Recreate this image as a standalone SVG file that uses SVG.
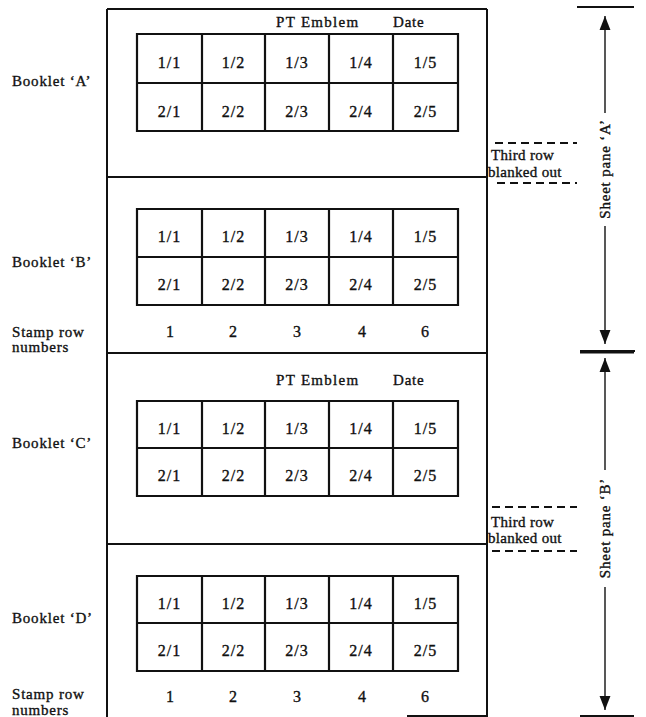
<svg xmlns="http://www.w3.org/2000/svg" width="646" height="717" viewBox="0 0 646 717">
<style>
text{font-family:"Liberation Serif","Times New Roman",serif;fill:#111;stroke:#111;stroke-width:0.35px}
.lbl{font-size:15px;letter-spacing:0.8px}
.cell{font-size:16px;letter-spacing:1px;text-anchor:middle}
.num{font-size:16px;text-anchor:middle}
.frame{fill:none;stroke:#111;stroke-width:2}
.grid{fill:none;stroke:#111;stroke-width:2.2}
.dash{fill:none;stroke:#111;stroke-width:2;stroke-dasharray:8 5}
.dim{fill:none;stroke:#111;stroke-width:1.4}
.bar{fill:none;stroke:#111;stroke-width:2}
</style>
<defs>
<marker id="ah" markerWidth="14" markerHeight="20" refX="18" refY="7" viewBox="0 0 18 14" orient="auto" markerUnits="userSpaceOnUse">
<path d="M0,0 L18,7 L0,14 Z" fill="#111"/>
</marker>
</defs>
<rect width="646" height="717" fill="#fff"/>

<g id="frame">
<path class="frame" d="M107,9 L487,9 M107,9 L107,717 M487,9 L487,717 M107,177 L487,177 M107,353 L487,353 M107,544 L487,544 M407,716 L487,716"/>
</g>

<g id="booklet-a">
<text class="lbl" x="12" y="86">Booklet ‘A’</text>
<text class="lbl" x="276" y="27" style="letter-spacing:1.3px">PT Emblem</text>
<text class="lbl" x="393" y="27">Date</text>
<path class="grid" d="M137,34 H458 V131 H137 Z M137,83 H458 M202,34 V131 M265,34 V131 M329,34 V131 M393,34 V131"/>
<text class="cell" x="169.5" y="68">1/1</text><text class="cell" x="233.5" y="68">1/2</text><text class="cell" x="297" y="68">1/3</text><text class="cell" x="361" y="68">1/4</text><text class="cell" x="425.5" y="68">1/5</text>
<text class="cell" x="169.5" y="117">2/1</text><text class="cell" x="233.5" y="117">2/2</text><text class="cell" x="297" y="117">2/3</text><text class="cell" x="361" y="117">2/4</text><text class="cell" x="425.5" y="117">2/5</text>
</g>

<g id="booklet-b">
<text class="lbl" x="12" y="267">Booklet ‘B’</text>
<path class="grid" d="M137,209 H458 V305 H137 Z M137,257 H458 M202,209 V305 M265,209 V305 M329,209 V305 M393,209 V305"/>
<text class="cell" x="169.5" y="242">1/1</text><text class="cell" x="233.5" y="242">1/2</text><text class="cell" x="297" y="242">1/3</text><text class="cell" x="361" y="242">1/4</text><text class="cell" x="425.5" y="242">1/5</text>
<text class="cell" x="169.5" y="290">2/1</text><text class="cell" x="233.5" y="290">2/2</text><text class="cell" x="297" y="290">2/3</text><text class="cell" x="361" y="290">2/4</text><text class="cell" x="425.5" y="290">2/5</text>
</g>

<g id="row-numbers-1">
<text class="lbl" x="12" y="337">Stamp row</text>
<text class="lbl" x="12" y="352">numbers</text>
<text class="num" x="170" y="337">1</text><text class="num" x="233" y="337">2</text><text class="num" x="297" y="337">3</text><text class="num" x="362" y="337">4</text><text class="num" x="425" y="337">6</text>
</g>

<g id="booklet-c">
<text class="lbl" x="12" y="448">Booklet ‘C’</text>
<text class="lbl" x="276" y="385" style="letter-spacing:1.3px">PT Emblem</text>
<text class="lbl" x="393" y="385">Date</text>
<path class="grid" d="M137,401 H458 V496 H137 Z M137,448 H458 M202,401 V496 M265,401 V496 M329,401 V496 M393,401 V496"/>
<text class="cell" x="169.5" y="433.5">1/1</text><text class="cell" x="233.5" y="433.5">1/2</text><text class="cell" x="297" y="433.5">1/3</text><text class="cell" x="361" y="433.5">1/4</text><text class="cell" x="425.5" y="433.5">1/5</text>
<text class="cell" x="169.5" y="481">2/1</text><text class="cell" x="233.5" y="481">2/2</text><text class="cell" x="297" y="481">2/3</text><text class="cell" x="361" y="481">2/4</text><text class="cell" x="425.5" y="481">2/5</text>
</g>

<g id="booklet-d">
<text class="lbl" x="12" y="623">Booklet ‘D’</text>
<path class="grid" d="M137,576 H458 V671 H137 Z M137,623 H458 M202,576 V671 M265,576 V671 M329,576 V671 M393,576 V671"/>
<text class="cell" x="169.5" y="608.5">1/1</text><text class="cell" x="233.5" y="608.5">1/2</text><text class="cell" x="297" y="608.5">1/3</text><text class="cell" x="361" y="608.5">1/4</text><text class="cell" x="425.5" y="608.5">1/5</text>
<text class="cell" x="169.5" y="656">2/1</text><text class="cell" x="233.5" y="656">2/2</text><text class="cell" x="297" y="656">2/3</text><text class="cell" x="361" y="656">2/4</text><text class="cell" x="425.5" y="656">2/5</text>
</g>

<g id="row-numbers-2">
<text class="lbl" x="12" y="699">Stamp row</text>
<text class="lbl" x="12" y="715">numbers</text>
<text class="num" x="170" y="702">1</text><text class="num" x="233" y="702">2</text><text class="num" x="297" y="702">3</text><text class="num" x="362" y="702">4</text><text class="num" x="425" y="702">6</text>
</g>

<g id="blank-a">
<path class="dash" d="M495,143 H577 M497,183 H577"/>
<text class="lbl" x="491" y="160" style="letter-spacing:0.3px">Third row</text>
<text class="lbl" x="488" y="177" style="letter-spacing:0.3px">blanked out</text>
</g>

<g id="blank-b">
<path class="dash" d="M492,507 H577 M492,551 H577"/>
<text class="lbl" x="491" y="527" style="letter-spacing:0.3px">Third row</text>
<text class="lbl" x="488" y="543" style="letter-spacing:0.3px">blanked out</text>
</g>

<g id="pane-a">
<text class="lbl" transform="translate(610,169) rotate(-90)" text-anchor="middle">Sheet pane ‘A’</text>
</g>
<g id="pane-b">
<text class="lbl" transform="translate(610,528) rotate(-90)" text-anchor="middle">Sheet pane ‘B’</text>
</g>

<g id="connectors">
<path class="bar" d="M577,7 H634 M580,351 H635 M580,352.5 H634 M580,716 H634"/>
<path class="dim" d="M605,113 V16" marker-end="url(#ah)"/>
<path class="dim" d="M605,226 V344" marker-end="url(#ah)"/>
<path class="dim" d="M605,470 V358" marker-end="url(#ah)"/>
<path class="dim" d="M605,587 V710" marker-end="url(#ah)"/>
</g>
</svg>
